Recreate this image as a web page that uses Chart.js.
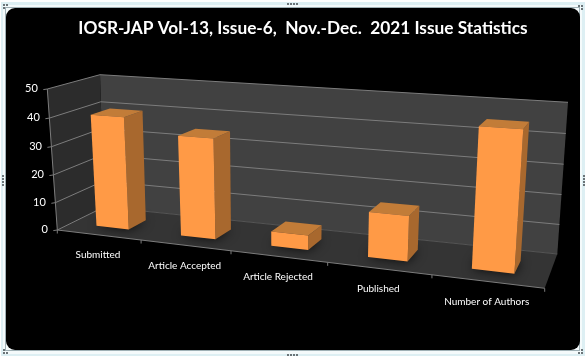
<!DOCTYPE html>
<html><head><meta charset="utf-8">
<style>html,body{margin:0;padding:0;background:#fff}canvas{display:block}</style>
<script src="https://cdn.jsdelivr.net/npm/chart.js@4"></script>
</head><body><canvas id="c" width="588" height="360"></canvas>
<script>
const categories = ['Submitted','Article Accepted','Article Rejected','Published','Number of Authors'];
const issueValues = [40,35,5,15,45];
const titleText = 'IOSR-JAP Vol-13, Issue-6,  Nov.-Dec.  2021 Issue Statistics';
const axisMax = 50, axisStep = 10;

// Perspective frame of the 3D box: corners BL, BR, TR, TL
const frontPlane = [[57.3,230],[544.7,288.3],[556.5,120],[47.3,89]];
const backPlane  = [[104,207],[557.3,254],[568,102.3],[100,74.7]];
const barDepth = [0.31,0.69];
let activeChart = null;

function quad(q){
  const [[x0,y0],[x1,y1],[x2,y2],[x3,y3]]=q;
  const dx1=x1-x2,dx2=x3-x2,sx=x0-x1+x2-x3,dy1=y1-y2,dy2=y3-y2,sy=y0-y1+y2-y3;
  const den=dx1*dy2-dx2*dy1,g=(sx*dy2-dx2*sy)/den,h=(dx1*sy-sx*dy1)/den;
  const a=x1-x0+g*x1,b=x3-x0+h*x3,d=y1-y0+g*y1,e=y3-y0+h*y3;
  return (u,v)=>{const w=g*u+h*v+1;return [(a*u+b*v+x0)/w,(d*u+e*v+y0)/w];};
}
const HF=quad(frontPlane),HB=quad(backPlane);
function P(u,v,d){const f=HF(u,v),b=HB(u,v);return [f[0]+(b[0]-f[0])*d,f[1]+(b[1]-f[1])*d];}
function poly(ctx,pts,fill){ctx.beginPath();pts.forEach((p,i)=>i?ctx.lineTo(p[0],p[1]):ctx.moveTo(p[0],p[1]));ctx.closePath();if(fill){ctx.fillStyle=fill;ctx.fill();}}
function seg(ctx,a,b,c){ctx.beginPath();ctx.moveTo(a[0],a[1]);ctx.lineTo(b[0],b[1]);ctx.strokeStyle=c;ctx.lineWidth=1;ctx.stroke();}
function norm(chart,x,y){const A=chart.chartArea;return [(x-A.left)/(A.right-A.left),(A.bottom-y)/(A.bottom-A.top)];}

// Every bar is drawn by the library's bar element, through the perspective
Chart.BarElement.prototype.draw=function(ctx){
  const chart=activeChart;
  const hw=this.width/2;
  const [u0,v1]=norm(chart,this.x-hw,this.y),[u1,v0]=norm(chart,this.x+hw,this.base);
  const [d0,d1]=barDepth;
  const col=this.options.backgroundColor;
  ctx.save();
  poly(ctx,[P(u1,v0,d0),P(u1,v0,d1),P(u1,v1,d1),P(u1,v1,d0)],'#A8682E');
  poly(ctx,[P(u0,v1,d0),P(u1,v1,d0),P(u1,v1,d1),P(u0,v1,d1)],'#C27C38');
  poly(ctx,[P(u0,v0,d0),P(u1,v0,d0),P(u1,v1,d0),P(u0,v1,d0)],col);
  ctx.restore();
};

const box3d={id:'box3d',
  beforeDraw(chart){
    activeChart=chart;
    const ctx=chart.ctx;
    ctx.save();
    ctx.fillStyle='#fff';ctx.fillRect(0,0,588,360);
    ctx.fillStyle='#DDEFF3';ctx.fillRect(1,2,584,354);
    ctx.fillStyle='#F4FAFB';ctx.fillRect(3,5,579,349);
    ctx.strokeStyle='#9FB0B5';ctx.lineWidth=1;ctx.strokeRect(5.5,7.5,574,343);
    ctx.fillStyle='#000';ctx.beginPath();ctx.roundRect(6,8,574,342,9);ctx.fill();
    ctx.fillStyle='#6B7478';
    for(const x of [287,290,293,296]){ctx.fillRect(x,3,2,2);ctx.fillRect(x,354,2,2);}
    for(const y of [175,178,181,184]){ctx.fillRect(2,y,2,2);ctx.fillRect(583,y,2,2);}
    for(const [x,y] of [[3,4],[6,4],[3,7],[578,5],[581,5],[581,8],[578,352],[581,352],[581,349],[3,352],[6,352],[3,349]]){ctx.fillRect(x,y,2,2);}
    ctx.restore();
  },
  beforeDatasetsDraw(chart){
    const ctx=chart.ctx,ys=chart.scales.y,xs=chart.scales.x,A=chart.chartArea;
    ctx.save();
    poly(ctx,[P(0,0,1),P(1,0,1),P(1,1,1),P(0,1,1)],'#414141');
    poly(ctx,[P(0,0,0),P(0,0,1),P(0,1,1),P(0,1,0)],'#2C2C2C');
    poly(ctx,[P(0,0,0),P(1,0,0),P(1,0,1),P(0,0,1)],'#343434');
    // soft shadows of the bars on the floor
    const meta=chart.getDatasetMeta(0);
    meta.data.forEach(b=>{
      const hw=b.width/2,[u0]=norm(chart,b.x-hw,b.y),[u1]=norm(chart,b.x+hw,b.y);
      ctx.save();
      ctx.shadowColor='rgba(0,0,0,0.8)';ctx.shadowBlur=11;
      poly(ctx,[P(u0,0,barDepth[0]),P(u1,0,barDepth[0]),P(u1,0,barDepth[1]),P(u0,0,barDepth[1])],'#222');
      ctx.restore();
    });
    const grid='#7C7C7C';
    ys.ticks.forEach(t=>{
      const v=(ys.getPixelForValue(t.value)-A.bottom)/(A.top-A.bottom);
      const a=P(0,v,0),b=P(0,v,1),c=P(1,v,1);
      if(t.value>0){seg(ctx,b,c,grid);}
      seg(ctx,a,b,grid);
      seg(ctx,[a[0]-4,a[1]+0.6],a,grid);
      ctx.fillStyle='#fff';ctx.font='11px Lato';ctx.textAlign='right';ctx.textBaseline='middle';
      ctx.fillText(t.label,a[0]-9.5,a[1]-0.5);
    });
    const f0=P(0,0,1),f1=P(1,0,1);
    seg(ctx,f0,f1,'#555');
    seg(ctx,P(0,0,0),P(0,1,0),grid);
    seg(ctx,P(0,0,0),P(1,0,0),grid);
    const n=xs.ticks.length;
    for(let i=0;i<=n;i++){const p=P(i/n,0,0);seg(ctx,p,[p[0],p[1]+3.5],grid);}
    xs.ticks.forEach((t,i)=>{
      const u=(xs.getPixelForValue(t.value)-A.left)/(A.right-A.left);
      const p=P(u,0,0);
      ctx.fillStyle='#fff';ctx.font='10px Lato';ctx.textAlign='center';ctx.textBaseline='middle';
      ctx.fillText(t.label,p[0]-0.5,p[1]+20);
    });
    ctx.restore();
  }
};

new Chart(document.getElementById('c'),{
  type:'bar',
  data:{labels:categories,datasets:[{label:'Issue statistics',data:issueValues,backgroundColor:'#FF9A46',barPercentage:0.39,categoryPercentage:1,clip:false}]},
  plugins:[box3d],
  options:{
    responsive:false,animation:false,
    layout:{padding:{left:18,right:0,top:8,bottom:10}},
    plugins:{legend:{display:false},tooltip:{enabled:false},
      title:{display:true,text:titleText,color:'#fff',font:{family:'Lato',size:17.3,weight:'bold'},padding:{top:10,bottom:10}}},
    scales:{
      x:{type:'category',offset:true,grid:{display:false},border:{display:false},ticks:{display:false,autoSkip:false}},
      y:{type:'linear',min:0,max:axisMax,grid:{display:false},border:{display:false},ticks:{display:false,stepSize:axisStep}}
    }
  }
});
</script></body></html>
